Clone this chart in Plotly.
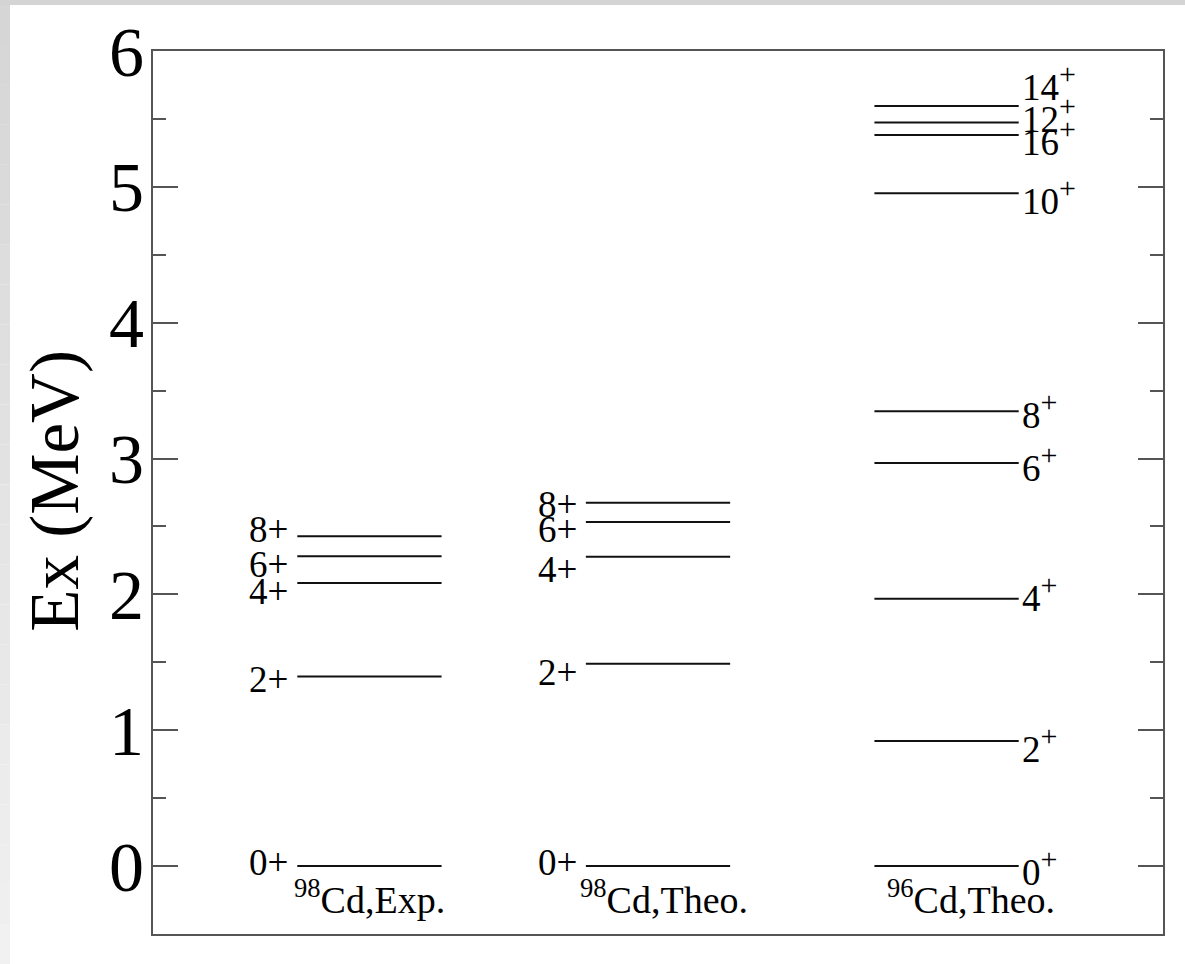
import plotly.graph_objects as go

# ---------------- data ----------------
column_labels = ["<sup>98</sup>Cd,Exp.", "<sup>98</sup>Cd,Theo.", "<sup>96</sup>Cd,Theo."]

exp98_spins = ["0+", "2+", "4+", "6+", "8+"]
exp98_E = [0.0, 1.395, 2.083, 2.281, 2.428]

theo98_spins = ["0+", "2+", "4+", "6+", "8+"]
theo98_E = [0.0, 1.490, 2.277, 2.532, 2.674]

theo96_spins = ["0", "2", "4", "6", "8", "10", "16", "12", "14"]
theo96_E = [0.0, 0.921, 1.968, 2.968, 3.348, 4.953, 5.382, 5.473, 5.596]

y_ticks = [0, 1, 2, 3, 4, 5, 6]

# label vertical nudges (pixels, + = up) -- layout only
exp98_shift = [4, -3, -8, -8, 7]
theo98_shift = [4, -9, -13, -7, -2]
theo96_shift = [-5, -8, 1, -5, -3, -7, -7, 4, 19]

FONT = "Liberation Serif"
AXC = "#555555"
HALF = 0.25

fig = go.Figure()

columns = [
    (1, exp98_spins, exp98_E, exp98_shift, "left"),
    (2, theo98_spins, theo98_E, theo98_shift, "left"),
    (3, theo96_spins, theo96_E, theo96_shift, "right"),
]

annotations = []
for xc, spins, energies, shifts, side in columns:
    xs, ys = [], []
    for e in energies:
        xs += [xc - HALF, xc + HALF, None]
        ys += [e, e, None]
    fig.add_trace(go.Scatter(x=xs, y=ys, mode="lines",
                             line=dict(color="#111111", width=2),
                             hoverinfo="skip", showlegend=False))
    for s, e, sh in zip(spins, energies, shifts):
        if side == "left":
            annotations.append(dict(x=xc - HALF, y=e, xref="x", yref="y",
                                    text=s, showarrow=False, xanchor="right",
                                    yanchor="middle", xshift=-7, yshift=sh,
                                    font=dict(family=FONT, size=37, color="black")))
        else:
            annotations.append(dict(x=xc + HALF, y=e, xref="x", yref="y",
                                    text=s + "<sup><span style='font-size:30px'>+</span></sup>",
                                    showarrow=False,
                                    xanchor="left", yanchor="middle", xshift=1,
                                    yshift=sh + 4,
                                    font=dict(family=FONT, size=37, color="black")))

# column names
col_xshift = [0, 6, 24]
for i, lab in enumerate(column_labels):
    annotations.append(dict(x=i + 1, y=0, xref="x", yref="y", text=lab,
                            showarrow=False, xanchor="center", yanchor="top",
                            xshift=col_xshift[i], yshift=-5,
                            font=dict(family=FONT, size=38, color="black")))

# y axis title
annotations.append(dict(x=(55 - 153) / 1010, y=0.502, xref="paper", yref="paper",
                        text="Ex (MeV)", textangle=-90, showarrow=False,
                        xanchor="center", yanchor="middle",
                        font=dict(family=FONT, size=69, color="black")))

# background frame strips (gray border of the original picture)
L, R, T, B = 153, 1163, 51, 934
W, H = R - L, B - T
def px(x):
    return (x - L) / W
def py(y):
    return (B - y) / H

shapes = []
shapes.append(dict(type="rect", xref="paper", yref="paper", x0=px(0), x1=px(1185),
                   y0=py(5), y1=py(0), fillcolor="#d4d4d4", line_width=0, layer="below"))
n = 24
for k in range(n):
    y0p = 5 + (964 - 5) * k / n
    y1p = 5 + (964 - 5) * (k + 1) / n
    c = int(214 + (241 - 214) * k / (n - 1))
    shapes.append(dict(type="rect", xref="paper", yref="paper", x0=px(0), x1=px(10),
                       y0=py(y1p), y1=py(y0p), fillcolor=f"rgb({c},{c},{c})",
                       line_width=0, layer="below"))

fig.update_layout(
    width=1185, height=964,
    margin=dict(l=L, r=1185 - R, t=T, b=964 - B),
    paper_bgcolor="white", plot_bgcolor="white",
    annotations=annotations, shapes=shapes,
    xaxis=dict(range=[0.25, 3.75], showline=True, mirror=True, linecolor=AXC,
               linewidth=2, showticklabels=False, ticks="", showgrid=False,
               zeroline=False, fixedrange=True),
    yaxis=dict(range=[-0.5, 6], tickvals=y_ticks, ticks="inside", ticklen=25,
               tickwidth=2, tickcolor=AXC, showline=True, mirror="ticks",
               linecolor=AXC, linewidth=2, showgrid=False, zeroline=False,
               tickfont=dict(family=FONT, size=70, color="black"),
               ticklabelstandoff=-7,
               minor=dict(dtick=0.5, ticks="inside", ticklen=13, tickwidth=2,
                          tickcolor=AXC, showgrid=False),
               fixedrange=True),
)

fig.write_html("out.html")
